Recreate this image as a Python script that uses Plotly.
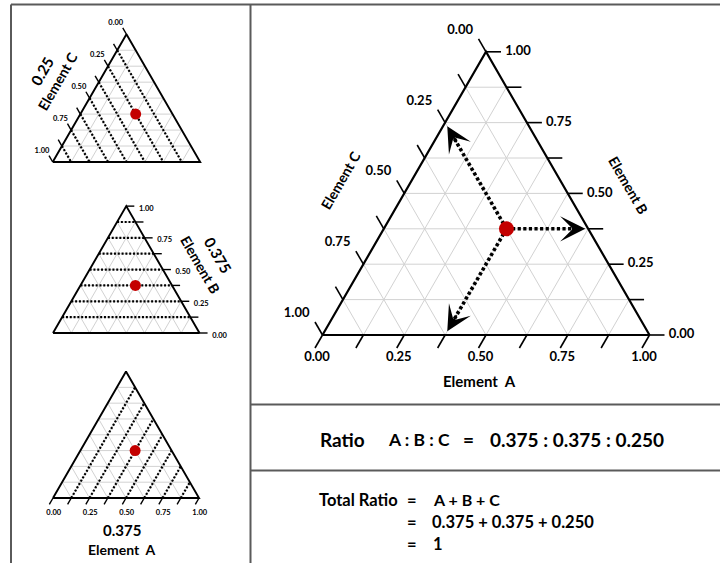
import math
import plotly.graph_objects as go

W, H = 720, 563
SQ = math.sqrt(3) / 2

# ---------------- data ----------------
ratio_A = 0.375
ratio_B = 0.375
ratio_C = 0.250
tick_fracs = [0.0, 0.125, 0.25, 0.375, 0.5, 0.625, 0.75, 0.875, 1.0]
grid_fracs = [0.125, 0.25, 0.375, 0.5, 0.625, 0.75, 0.875]
label_vals = [0.0, 0.25, 0.5, 0.75, 1.0]
label_texts = ["0.00", "0.25", "0.50", "0.75", "1.00"]
axis_titles = ["Element A", "Element B", "Element C"]
value_texts = ["0.375", "0.375", "0.25"]

FONT = "Lato"
RED = "#c40000"
GRID = "#d2d2d2"
FRAME = "#5a5a5a"


def tern(a, b):
    """(A, B) composition -> cartesian unit coords (B is height, A along base)."""
    return a + b / 2.0, b * SQ


# panel geometry (pixels): bottom-left vertex, side length, axes box
panels = {
    "main": dict(i=1, ox=322.5, oy=335.0, L=327.0, box=(252, 718, 6, 403)),
    "t1": dict(i=2, ox=52.7, oy=162.0, L=147.5, box=(13, 248, 6, 188)),
    "t2": dict(i=3, ox=53.0, oy=333.0, L=146.5, box=(13, 248, 190, 358)),
    "t3": dict(i=4, ox=53.0, oy=498.0, L=146.0, box=(13, 248, 362, 561)),
}

fig = go.Figure()
layout_axes = {}
for name, p in panels.items():
    i = p["i"]
    x0, x1, y0, y1 = p["box"]
    sfx = "" if i == 1 else str(i)
    p["xa"] = "x" + sfx
    p["ya"] = "y" + sfx
    layout_axes["xaxis" + sfx] = dict(
        domain=[x0 / W, x1 / W],
        range=[(x0 - p["ox"]) / p["L"], (x1 - p["ox"]) / p["L"]],
        visible=False, fixedrange=True, anchor="y" + sfx)
    layout_axes["yaxis" + sfx] = dict(
        domain=[1 - y1 / H, 1 - y0 / H],
        range=[(p["oy"] - y1) / p["L"], (p["oy"] - y0) / p["L"]],
        visible=False, fixedrange=True, anchor="x" + sfx)


def px(p, dx, dy):
    """pixel offset (right, down) -> unit offset"""
    return dx / p["L"], -dy / p["L"]


def add_segments(p, segs, color, width, dash="solid"):
    xs, ys = [], []
    for (x1, y1), (x2, y2) in segs:
        xs += [x1, x2, None]
        ys += [y1, y2, None]
    fig.add_trace(go.Scatter(x=xs, y=ys, mode="lines", xaxis=p["xa"], yaxis=p["ya"],
                             line=dict(color=color, width=width, dash=dash),
                             hoverinfo="skip", showlegend=False))


def family(kind, fracs):
    segs = []
    for f in fracs:
        if kind == "A":
            segs.append((tern(f, 0), tern(f, 1 - f)))
        elif kind == "B":
            segs.append((tern(0, f), tern(1 - f, f)))
        else:
            segs.append((tern(0, 1 - f), tern(1 - f, 0)))
    return segs


TICK_DIR = {"A": (-0.5, -SQ), "B": (1.0, 0.0), "C": (-0.5, SQ)}


def tick_base(kind, f):
    if kind == "A":
        return tern(f, 0)
    if kind == "B":
        return tern(1 - f, f)
    return tern(0, 1 - f)


def add_ticks(p, kind, tlen, lab_off, fsize, twidth=1.6):
    d = TICK_DIR[kind]
    segs = []
    for f in tick_fracs:
        bx, by = tick_base(kind, f)
        segs.append(((bx, by), (bx + d[0] * tlen, by + d[1] * tlen)))
    add_segments(p, segs, "black", twidth)
    ox_, oy_ = px(p, *lab_off)
    lx, ly = [], []
    for v in label_vals:
        bx, by = tick_base(kind, v)
        lx.append(bx + d[0] * tlen + ox_)
        ly.append(by + d[1] * tlen + oy_)
    fig.add_trace(go.Scatter(x=lx, y=ly, mode="text", text=label_texts,
                             textposition="middle center", xaxis=p["xa"], yaxis=p["ya"],
                             textfont=dict(family=FONT, size=fsize, color="black", weight="bold"),
                             hoverinfo="skip", showlegend=False, cliponaxis=False))


def outline(p, width):
    pts = [tern(0, 0), tern(1, 0), tern(0, 1), tern(0, 0)]
    fig.add_trace(go.Scatter(x=[q[0] for q in pts], y=[q[1] for q in pts], mode="lines",
                             xaxis=p["xa"], yaxis=p["ya"],
                             line=dict(color="black", width=width),
                             hoverinfo="skip", showlegend=False))


def point(p, size):
    x, y = tern(ratio_A, ratio_B)
    fig.add_trace(go.Scatter(x=[x], y=[y], mode="markers", xaxis=p["xa"], yaxis=p["ya"],
                             marker=dict(color=RED, size=size, line=dict(width=0)),
                             hoverinfo="skip", showlegend=False, cliponaxis=False))


def all_grid(p):
    add_segments(p, family("A", grid_fracs) + family("B", grid_fracs) + family("C", grid_fracs),
                 GRID, 1)


# ---------------- main triangle ----------------
pm = panels["main"]
all_grid(pm)
P = tern(ratio_A, ratio_B)
targets = [tern(ratio_A, 0), tern(1 - ratio_B, ratio_B), tern(0, 1 - ratio_C)]
arrow_segs = []
annotations = []
for E in targets:
    vx, vy = E[0] - P[0], E[1] - P[1]
    tip = (P[0] + vx * 0.965, P[1] + vy * 0.965)
    lend = (P[0] + vx * 0.88, P[1] + vy * 0.88)
    tail = (P[0] + vx * 0.80, P[1] + vy * 0.80)
    arrow_segs.append((P, lend))
    annotations.append(dict(x=tip[0], y=tip[1], ax=tail[0], ay=tail[1],
                            xref="x", yref="y", axref="x", ayref="y",
                            text="", showarrow=True, arrowhead=3, arrowsize=2.1,
                            arrowwidth=2, arrowcolor="black", standoff=0))
add_segments(pm, arrow_segs, "black", 3.6, dash="3.2px,2.4px")
outline(pm, 2.2)
add_ticks(pm, "A", 15 / pm["L"], (2, 10), 13)
add_ticks(pm, "B", 15 / pm["L"], (17, 0), 13)
add_ticks(pm, "C", 15 / pm["L"], (-18.3, -8.3), 13)
point(pm, 15)

# ---------------- small triangle 1 (Element C) ----------------
p1 = panels["t1"]
all_grid(p1)
add_segments(p1, family("C", grid_fracs), "black", 2.2, dash="2px,1.8px")
outline(p1, 1.9)
add_ticks(p1, "C", 0.05, (-7, -4.5), 7.5, 1.4)
point(p1, 11)

# ---------------- small triangle 2 (Element B) ----------------
p2 = panels["t2"]
all_grid(p2)
add_segments(p2, family("B", grid_fracs), "black", 2.2, dash="2px,1.8px")
outline(p2, 1.9)
add_ticks(p2, "B", 0.055, (12.0, 2.7), 7.5, 1.4)
point(p2, 11)

# ---------------- small triangle 3 (Element A) ----------------
p3 = panels["t3"]
all_grid(p3)
add_segments(p3, family("A", grid_fracs), "black", 2.2, dash="2px,1.8px")
outline(p3, 1.9)
add_ticks(p3, "A", 0.05, (4.4, 8.4), 7.5, 1.4)
point(p3, 11)


# ---------------- texts ----------------
def ptxt(x, y, text, size, angle=0, xanchor="center"):
    annotations.append(dict(x=x / W, y=1 - y / H, xref="paper", yref="paper",
                            text="<b>" + text + "</b>", showarrow=False, textangle=angle,
                            xanchor=xanchor, yanchor="middle",
                            font=dict(family=FONT, size=size, color="black")))


# main axis titles
ptxt(479, 380.5, axis_titles[0].replace(" ", "  "), 15)
ptxt(629, 185, axis_titles[1], 14, angle=60)
ptxt(340, 180, axis_titles[2], 14, angle=-60)
# small panel titles
ptxt(57, 81, axis_titles[2], 14, angle=-60)
ptxt(42, 71, value_texts[2], 15, angle=-60)
ptxt(200, 265, axis_titles[1], 14, angle=60)
ptxt(218, 255, value_texts[1], 15, angle=60)
ptxt(122, 530, value_texts[0], 15)
ptxt(122, 549, axis_titles[0].replace(" ", "  "), 14)

# ratio box
ratio_str = " : ".join(f"{v:.3f}" for v in (ratio_A, ratio_B, ratio_C))
sum_str = " + ".join(f"{v:.3f}" for v in (ratio_A, ratio_B, ratio_C))
total = ratio_A + ratio_B + ratio_C
ptxt(318, 439.5, "Ratio", 19, xanchor="left")
ptxt(386, 439.5, "A : B : C", 17.5, xanchor="left")
ptxt(468, 439.5, "=", 19)
ptxt(488, 439.5, ratio_str, 19, xanchor="left")

ptxt(317, 499.5, "Total Ratio", 16.5, xanchor="left")
ptxt(412, 499.5, "=", 16.5)
ptxt(431, 499.5, "A + B + C", 16, xanchor="left")
ptxt(412, 521.5, "=", 16.5)
ptxt(430, 521.5, sum_str, 16.5, xanchor="left")
ptxt(412, 544, "=", 16.5)
ptxt(431, 544, f"{total:g}", 16.5, xanchor="left")

# frame lines
shapes = []
for (xa, ya, xb, yb) in [(11, 4.5, 11, 563), (11, 4.5, 720, 4.5), (250.5, 4.5, 250.5, 563),
                         (250.5, 404.5, 720, 404.5), (250.5, 470.5, 720, 470.5)]:
    shapes.append(dict(type="line", xref="paper", yref="paper",
                       x0=xa / W, y0=1 - ya / H, x1=xb / W, y1=1 - yb / H,
                       line=dict(color=FRAME, width=2)))

fig.update_layout(width=W, height=H, margin=dict(l=0, r=0, t=0, b=0),
                  paper_bgcolor="white", plot_bgcolor="rgba(0,0,0,0)",
                  showlegend=False, annotations=annotations, shapes=shapes,
                  **layout_axes)
fig.write_html("out.html", config={"displayModeBar": False},
               post_script="document.body.style.margin='0px';document.body.style.overflow='hidden';")
